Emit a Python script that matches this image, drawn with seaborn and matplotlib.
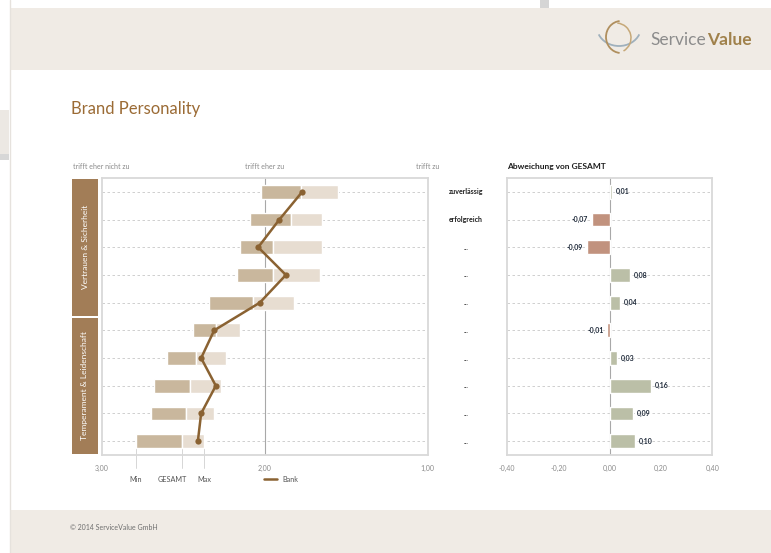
import numpy as np
import pandas as pd
import matplotlib
matplotlib.use('Agg')
import matplotlib.pyplot as plt
import seaborn as sns
from matplotlib.patches import Rectangle, Arc
from matplotlib.transforms import blended_transform_factory

# data
items = ['zuverlässig', 'erfolgreich', '...', '...', '...', '...', '...', '...', '...', '...']
gesamt_min = [2.02, 2.09, 2.15, 2.17, 2.34, 2.44, 2.60, 2.68, 2.70, 2.79]
gesamt = [1.78, 1.84, 1.95, 1.95, 2.07, 2.30, 2.42, 2.46, 2.48, 2.51]
gesamt_max = [1.55, 1.65, 1.65, 1.66, 1.82, 2.15, 2.24, 2.27, 2.31, 2.37]
bank = [1.77, 1.91, 2.04, 1.87, 2.03, 2.31, 2.39, 2.30, 2.39, 2.41]
abweichung = [0.01, -0.07, -0.09, 0.08, 0.04, -0.01, 0.03, 0.16, 0.09, 0.10]
groups = ['Vertrauen & Sicherheit', 'Temperament & Leidenschaft']
group_size = [5, 5]
scale_ticks = [3.0, 2.0, 1.0]
scale_ticklabels = ['3,00', '2,00', '1,00']
scale_labels = ['trifft eher nicht zu', 'trifft eher zu', 'trifft zu']
dev_ticks = [-0.4, -0.2, 0.0, 0.2, 0.4]
dev_ticklabels = ['-0,40', '-0,20', '0,00', '0,20', '0,40']

# colours
band_c = '#F0EBE5'
dark_c = '#C9B79D'
light_c = '#E7DDD1'
bank_c = '#8A6232'
panel_c = '#A27D57'
pos_c = '#BEC3A3'
neg_c = '#CC8E73'
title_c = '#9B6B35'
grid_c = '#C8C8C8'
spine_c = '#D9D9D9'
tick_c = '#8A8A8A'

sns.set_style('white')
plt.rcParams['font.family'] = ['Lato', 'DejaVu Sans']

W, H = 771, 553
fig = plt.figure(figsize=(W / 100, H / 100), dpi=100)


def box(x0, y0, x1, y1):
    # pixel box (top-left origin) -> figure fraction rect
    return [x0 / W, 1 - y1 / H, (x1 - x0) / W, (y1 - y0) / H]


# ---------- page background ----------
bg = fig.add_axes([0, 0, 1, 1], zorder=0)
bg.set_xlim(0, W)
bg.set_ylim(H, 0)
bg.axis('off')
bg.add_patch(Rectangle((10, 8), W - 10, 62, color=band_c, lw=0))
bg.add_patch(Rectangle((10, 510), W - 10, 43, color=band_c, lw=0))
bg.add_patch(Rectangle((0, 110), 9, 44, color='#ECE8E3', lw=0))
bg.add_patch(Rectangle((0, 154), 9, 6, color='#BDBDBD', lw=0, alpha=0.6))
bg.add_patch(Rectangle((540, 0), 9, 8, color='#C4C4C4', lw=0, alpha=0.7))
bg.plot([9.5, 9.5], [0, H], color='#E6E2DD', lw=1)

# logo
bg.add_patch(Arc((619, 27), 44, 38, theta1=20, theta2=160, color='#9FB0BC', lw=1.3))
bg.add_patch(Arc((621, 37), 30, 32, theta1=95, theta2=265, color='#B08F5E', lw=1.3))
bg.add_patch(Arc((616, 38), 30, 30, theta1=-85, theta2=60, color='#C6A878', lw=1.1))
bg.text(706, 40, 'Service', ha='right', va='center', fontsize=12.5, color='#8C8C8C')
bg.text(707, 40, 'Value', ha='left', va='center', fontsize=12.5, color='#A0814B',
        fontweight='bold')

bg.text(71, 109, 'Brand Personality', ha='left', va='center', fontsize=12,
        color=title_c)
bg.text(70, 528, '© 2014 ServiceValue GmbH', ha='left', va='center', fontsize=5,
        color='#6E6E6E')

# group panels
start = 178
row_h = 277 / 10
for g, n in zip(groups, group_size):
    end = start + n * row_h
    bg.add_patch(Rectangle((72, start + 1), 25.5, end - start - 2, color=panel_c, lw=0))
    bg.text(85, (start + end) / 2, g, rotation=90, ha='center', va='center',
            fontsize=6, color='white')
    start = end

rows = np.arange(len(items))

# ---------- left chart: GESAMT range + Bank ----------
ax = fig.add_axes(box(101.7, 178, 427.7, 455), zorder=1)
ax.set_facecolor('none')
for i in rows:
    ax.axhline(i, color=grid_c, lw=0.6, ls=(0, (3, 3)), zorder=0)
ax.axvline(2.0, color='#A8A8A8', lw=0.8, zorder=0.5)

gmin = np.array(gesamt_min)
gmid = np.array(gesamt)
gmax = np.array(gesamt_max)
ax.barh(rows, gmid - gmin, left=gmin, height=0.5, color=dark_c, zorder=1)
ax.barh(rows, gmax - gmid, left=gmid, height=0.5, color=light_c, zorder=1)

line_df = pd.DataFrame({'bank': bank, 'row': rows})
sns.lineplot(data=line_df, x='bank', y='row', sort=False, orient='y', color=bank_c,
             lw=1.8, marker='o', markersize=4.5, markeredgewidth=0, ax=ax, zorder=3)

ax.set_xlim(3, 1)
ax.set_ylim(9.5, -0.5)
ax.set_xticks(scale_ticks)
ax.set_xticklabels(scale_ticklabels)
ax.set_yticks([])
ax.set_xlabel('')
ax.set_ylabel('')
ax.tick_params(axis='x', labelsize=5, labelcolor=tick_c, color=spine_c,
               length=3, width=0.8, direction='out', pad=4)
for s in ax.spines.values():
    s.set_color(spine_c)
    s.set_linewidth(1.3)

top = blended_transform_factory(ax.transData, ax.transAxes)
for v, lab in zip(scale_ticks, scale_labels):
    ax.text(v, 1.04, lab, transform=top, ha='center', va='center', fontsize=5,
            color=tick_c)

# legend: Min / GESAMT / Max marked at the bottom bar, Bank line
last = len(items) - 1
for v, lab, dx in zip([gmin[last], gmid[last], gmax[last]], ['Min', 'GESAMT', 'Max'],
                      [0, -7, 0]):
    ax.plot([v, v], [last + 0.25, 9.98], color='#D0D0D0', lw=0.6, clip_on=False, zorder=0)
    ax.annotate(lab, (v, 10.38), xytext=(dx, 0), textcoords='offset points',
                ha='center', va='center', fontsize=5.2, color='#555555',
                annotation_clip=False)
ax.plot([0.498, 0.538], [-0.087, -0.087], transform=ax.transAxes, color=bank_c,
        lw=1.8, clip_on=False)
ax.text(0.553, -0.087, 'Bank', transform=ax.transAxes, ha='left', va='center',
        fontsize=5.2, color='#555555')

# ---------- right chart: deviation from GESAMT ----------
ax2 = fig.add_axes(box(507.3, 178, 712.3, 455), zorder=1)
ax2.set_facecolor('none')
for i in rows:
    ax2.axhline(i, color=grid_c, lw=0.6, ls=(0, (3, 3)), zorder=0)
ax2.axvline(0, color='#A8A8A8', lw=0.8, zorder=0.5)

dev_df = pd.DataFrame({'row': rows, 'abw': abweichung,
                       'sign': ['pos' if v >= 0 else 'neg' for v in abweichung]})
sns.barplot(data=dev_df, x='abw', y='row', hue='sign', orient='h', dodge=False,
            palette={'pos': pos_c, 'neg': neg_c}, width=0.5, legend=False,
            ax=ax2, zorder=2)

for i, v in enumerate(abweichung):
    lab = f'{v:.2f}'.replace('.', ',')
    if v >= 0:
        ax2.text(v + 0.014, i, lab, ha='left', va='center', fontsize=5,
                 fontweight='bold', color='#1F2A3A', zorder=3)
    else:
        ax2.text(v - 0.014, i, lab, ha='right', va='center', fontsize=5,
                 fontweight='bold', color='#1F2A3A', zorder=3)

ax2.set_xlim(-0.4, 0.4)
ax2.set_ylim(9.5, -0.5)
ax2.set_xticks(dev_ticks)
ax2.set_xticklabels(dev_ticklabels)
ax2.set_yticks([])
ax2.set_xlabel('')
ax2.set_ylabel('')
ax2.tick_params(axis='x', labelsize=5, labelcolor=tick_c, color=spine_c,
                length=3, width=0.8, direction='out', pad=4)
for s in ax2.spines.values():
    s.set_color(spine_c)
    s.set_linewidth(1.3)

ax2.text(0.0, 1.04, 'Abweichung von GESAMT', transform=ax2.transAxes, ha='left',
         va='center', fontsize=6, fontweight='bold', color='#1E1E1E')

# item labels between the two charts
mid = blended_transform_factory(ax2.transAxes, ax2.transData)
for i, lab in enumerate(items):
    ax2.text(-0.2015, i, lab, transform=mid, ha='center', va='center', fontsize=5,
             fontweight='bold', color='#1E1E1E', clip_on=False)

fig.savefig('out.png', dpi=100)
